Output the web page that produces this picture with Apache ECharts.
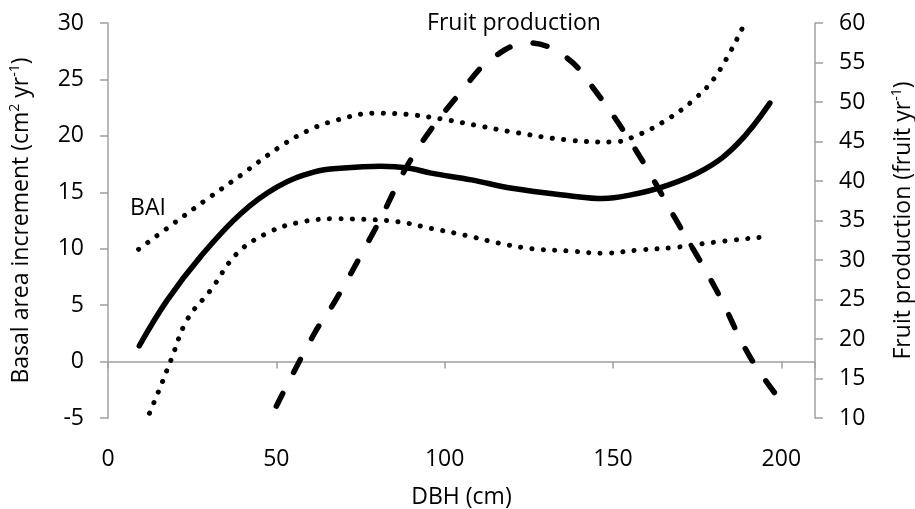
<!DOCTYPE html>
<html>
<head>
<meta charset="utf-8">
<script src="https://cdn.jsdelivr.net/npm/echarts@6/dist/echarts.min.js"></script>
<style>html,body{margin:0;padding:0;background:#fff}#c{width:915px;height:509px}</style>
</head>
<body>
<div id="c"></div>
<script>
// DBH (cm) and BAI fitted curve (left axis, cm2 yr-1)
var baiX = [9.3, 17.5, 27.5, 39.4, 50.4, 61.3, 70, 81, 90, 96, 108, 120, 137, 147, 155, 165, 177, 187, 196.6];
var baiY = [1.4, 5.4, 9.3, 13.1, 15.5, 16.8, 17.15, 17.3, 17.1, 16.7, 16.1, 15.35, 14.7, 14.45, 14.75, 15.5, 17.0, 19.3, 22.9];
// Upper confidence band for BAI
var upperX = [9.1, 17.5, 28.5, 39.4, 50.4, 59.3, 68, 79, 89, 99, 109, 119, 136, 150, 156, 165, 174, 181, 189];
var upperY = [9.95, 11.8, 14.2, 16.5, 18.9, 20.45, 21.4, 22.0, 21.9, 21.5, 20.95, 20.4, 19.65, 19.45, 19.9, 21.25, 23.2, 25.5, 29.9];
// Lower confidence band for BAI
var lowerX = [11, 15, 18.7, 23.5, 30.4, 38.4, 47.4, 56.3, 67, 76, 86, 96, 106, 116, 126, 137, 147, 158, 168, 178, 195];
var lowerY = [-5.5, -2.65, 0.14, 3.7, 6.3, 9.6, 11.4, 12.3, 12.65, 12.6, 12.4, 11.8, 11.2, 10.5, 10.0, 9.8, 9.6, 9.9, 10.1, 10.5, 11.05];
// Fruit production (right axis, fruit yr-1)
var fruitX = [50, 61.3, 67.3, 79.2, 91.1, 106, 114, 125, 135.9, 143.9, 156.8, 168.7, 180.7, 190.6, 199.6];
var fruitY = [11.5, 20.7, 24.7, 33.8, 43.5, 51.9, 55.5, 57.5, 55.7, 51.9, 43.9, 35.1, 26.2, 17.8, 12.3];
// Tick labels
var xTicks = [0, 50, 100, 150, 200];

function pairs(xs, ys) { return xs.map(function (x, i) { return [x, ys[i]]; }); }

var FONT = 'Open Sans';
var FS = 23;
var AX = '#a0a0a0';
var chart = echarts.init(document.getElementById('c'), null, {renderer: 'canvas'});
var sup = {fontSize: 14, fontFamily: FONT, color: '#000', verticalAlign: 'top', lineHeight: 26};
var norm = {fontSize: FS, fontFamily: FONT, color: '#000', lineHeight: 26};

chart.setOption({
  animation: false,
  grid: {left: 108, right: 100, top: 23, bottom: 91, containLabel: false, outerBoundsMode: 'none'},
  xAxis: {
    type: 'value', min: 0, max: 210, interval: 50,
    splitLine: {show: false},
    axisLine: {show: true, onZero: true, lineStyle: {color: AX, width: 1.5}},
    axisTick: {show: true, length: 7, lineStyle: {color: AX, width: 1.5}},
    axisLabel: {margin: 30, fontSize: FS, fontFamily: FONT, color: '#000',
      formatter: function (v) { return xTicks.indexOf(v) >= 0 ? String(v) : ''; }},
    name: 'DBH (cm)', nameLocation: 'middle', nameGap: 68,
    nameTextStyle: {fontSize: FS, fontFamily: FONT, color: '#000'}
  },
  yAxis: [{
    type: 'value', min: -5, max: 30, interval: 5, position: 'left',
    splitLine: {show: false},
    axisLine: {show: true, onZero: false, lineStyle: {color: AX, width: 1.5}},
    axisTick: {show: true, length: 8, lineStyle: {color: AX, width: 1.5}},
    axisLabel: {margin: 24, fontSize: FS, fontFamily: FONT, color: '#000'},
    name: '{n|Basal area increment (cm}{s|2}{n| yr}{s|-1}{n|)}',
    nameLocation: 'middle', nameGap: 74,
    nameTextStyle: {rich: {n: norm, s: sup}}
  }, {
    type: 'value', min: 10, max: 60, interval: 5, position: 'right',
    splitLine: {show: false},
    axisLine: {show: true, onZero: false, lineStyle: {color: AX, width: 1.5}},
    axisTick: {show: true, length: 8, lineStyle: {color: AX, width: 1.5}},
    axisLabel: {margin: 24, fontSize: FS, fontFamily: FONT, color: '#000'},
    name: '{n|Fruit production (fruit yr}{s|-1}{n|)}',
    nameLocation: 'middle', nameGap: 75,
    nameTextStyle: {rich: {n: norm, s: sup}}
  }],
  graphic: [
    {type: 'text', x: 148, y: 208, style: {text: 'BAI', font: FS + 'px "' + FONT + '"', fill: '#000', align: 'center', verticalAlign: 'middle'}},
    {type: 'text', x: 514, y: 23, style: {text: 'Fruit production', font: FS + 'px "' + FONT + '"', fill: '#000', align: 'center', verticalAlign: 'middle'}}
  ],
  series: [
    {type: 'line', name: 'BAI', yAxisIndex: 0, data: pairs(baiX, baiY), smooth: 0.4, showSymbol: false, symbol: 'none',
      lineStyle: {color: '#000', width: 5.5, cap: 'round'}},
    {type: 'line', name: 'upper', yAxisIndex: 0, data: pairs(upperX, upperY), smooth: 0.4, showSymbol: false, symbol: 'none',
      lineStyle: {color: '#000', width: 5, type: [0.1, 11.3], cap: 'round'}},
    {type: 'line', name: 'lower', yAxisIndex: 0, data: pairs(lowerX, lowerY), smooth: 0.4, showSymbol: false, symbol: 'none',
      lineStyle: {color: '#000', width: 5, type: [0.1, 11.3], cap: 'round'}},
    {type: 'line', name: 'Fruit production', yAxisIndex: 1, data: pairs(fruitX, fruitY), smooth: 0.4, showSymbol: false, symbol: 'none',
      lineStyle: {color: '#000', width: 5.5, type: [14.5, 23.5], cap: 'round'}}
  ]
});
</script>
</body>
</html>
